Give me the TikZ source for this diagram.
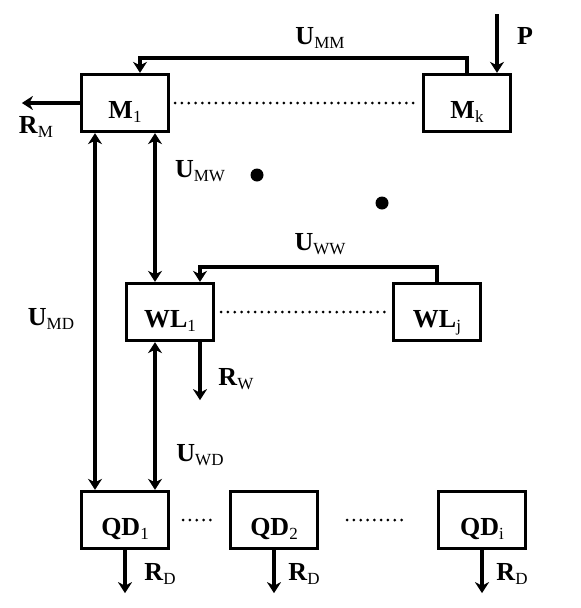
\documentclass[tikz,border=0pt]{standalone}
\usepackage{fontspec}
\setmainfont{Liberation Serif}
\usepackage{tikz}
\usetikzlibrary{arrows.meta}

\newcommand{\lbl}[2]{\textbf{#1}{\fontsize{17}{17}\selectfont\raisebox{-4pt}{#2}}}

\begin{document}
\begin{tikzpicture}[x=1pt, y=-1pt, >={Stealth[length=11pt,width=14pt,inset=3.5pt]}, line width=3.3pt,
    unit/.style={draw, rectangle, minimum width=87pt, minimum height=57pt,
        text height=32pt, text depth=2pt, font=\fontsize{26}{28}\selectfont},
    tag/.style={font=\fontsize{26}{28}\selectfont, inner sep=0pt},
    dots/.style={line width=3pt, dash pattern=on 0pt off 6.8pt, line cap=round}]
    \useasboundingbox (0,0) rectangle (581,608);

    % Nodes {m1, mk, wl1, wlj, qd1, qd2, qdi}
    \node [unit] (m1)  at (125,103) {\lbl{M}{1}};
    \node [unit] (mk)  at (467,103) {\lbl{M}{k}};
    \node [unit] (wl1) at (170,312) {\lbl{WL}{1}};
    \node [unit] (wlj) at (437,312) {\lbl{WL}{j}};
    \node [unit] (qd1) at (125,520) {\lbl{QD}{1}};
    \node [unit] (qd2) at (274,520) {\lbl{QD}{2}};
    \node [unit] (qdi) at (482,520) {\lbl{QD}{i}};
    \coordinate (pin) at (497,14);

    % Labels
    \node [tag] (umm) at (320,38)  {\lbl{U}{MM}};
    \node [tag] (p)   at (525,36)  {\textbf{P}};
    \node [tag] (rm)  at (36,127)  {\lbl{R}{M}};
    \node [tag] (umw) at (200,171) {\lbl{U}{MW}};
    \node [tag] (uww) at (320,244) {\lbl{U}{WW}};
    \node [tag] (umd) at (51,319)  {\lbl{U}{MD}};
    \node [tag] (rw)  at (236,379) {\lbl{R}{W}};
    \node [tag] (uwd) at (200,455) {\lbl{U}{WD}};
    \node [tag] (rd1) at (160,574) {\lbl{R}{D}};
    \node [tag] (rd2) at (304,574) {\lbl{R}{D}};
    \node [tag] (rdi) at (512,574) {\lbl{R}{D}};

    % Paths
    \draw [->] (mk.north) -- ++(0,-15) -| ([xshift=15pt]m1.north);
    \draw [->] (pin) -- (pin |- mk.north);
    \draw [->] (m1.west) -- ++(-58,0);
    \draw [dots] ([xshift=5pt]m1.east) -- ([xshift=-3pt]mk.west);

    \path [<->] ([xshift=-30pt]m1.south) edge ([xshift=-30pt]qd1.north);
    \path [<->] ([xshift=30pt]m1.south) edge ([xshift=30pt]m1.south |- wl1.north);
    \path [<->] ([xshift=-15pt]wl1.south) edge ([xshift=-15pt]wl1.south |- qd1.north);

    \draw [->] (wlj.north) -- ++(0,-15) -| ([xshift=30pt]wl1.north);
    \draw [->] ([xshift=30pt]wl1.south) -- ++(0,58);
    \draw [dots] ([xshift=6pt]wl1.east) -- ([xshift=-3pt]wlj.west);

    \draw [dots] ([xshift=13pt]qd1.east) -- ([xshift=-15pt]qd2.west);
    \draw [dots] ([xshift=28pt]qd2.east) -- ([xshift=-33pt]qdi.west);
    \draw [->] (qd1.south) -- ++(0,43);
    \draw [->] (qd2.south) -- ++(0,43);
    \draw [->] (qdi.south) -- ++(0,43);

    % Dots
    \fill (257,175) circle (6.5pt);
    \fill (382,203) circle (6.5pt);
\end{tikzpicture}
\end{document}
